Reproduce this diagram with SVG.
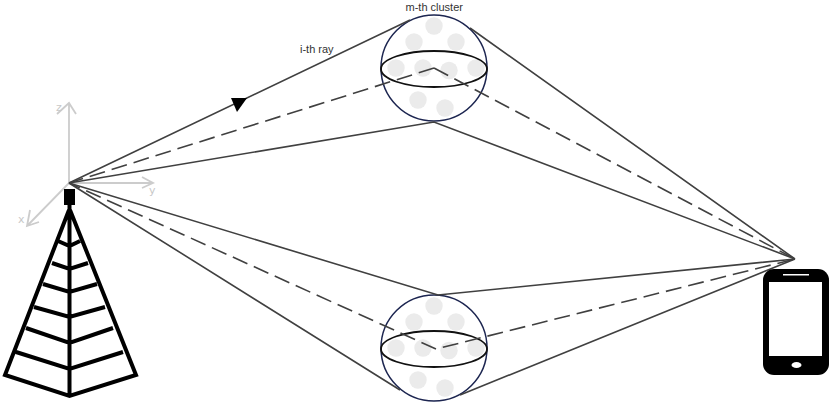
<svg xmlns="http://www.w3.org/2000/svg" width="830" height="404" viewBox="0 0 830 404">
<style>
text{font-family:"Liberation Sans",Arial,sans-serif}
.lbl{font-size:11px;fill:#333}
.ax{font-size:11px;fill:#c8c8c8;font-family:"DejaVu Sans",sans-serif}
.ray{fill:none;stroke:#404040;stroke-width:1.6}
.dash{stroke-dasharray:16 7}
.axis{fill:none;stroke:#cccccc;stroke-width:1.8}
.dot{fill:#ebebeb}
.sph{fill:none;stroke:#1c2550;stroke-width:1.5}
.eq{fill:none;stroke:#111;stroke-width:1.8}
.tw{fill:none;stroke:#000;stroke-width:4}
</style>
<defs>
<g id="cl">
<circle class="dot" cx="0" cy="-42" r="8.7"/><circle class="dot" cx="-20" cy="-26" r="8.7"/><circle class="dot" cx="22" cy="-26" r="8.7"/>
<circle class="dot" cx="-38" cy="0" r="8.7"/><circle class="dot" cx="-11" cy="0" r="8.7"/><circle class="dot" cx="15" cy="2.500" r="8.7"/><circle class="dot" cx="42" cy="0" r="8.7"/>
<circle class="dot" cx="-16" cy="32" r="8.7"/><circle class="dot" cx="11" cy="40" r="8.7"/>
<circle class="sph" cx="0" cy="0" r="53"/><ellipse class="eq" cx="0" cy="1" rx="53" ry="18"/>
</g>
</defs>
<g id="axes">
<path class="axis" d="M69 183V103M57 114L69 103L76 114M69 183H153M142 177L153 183L142 188M69 183L27 226M30 210L27 226L39 222"/>
<text class="ax" x="56" y="111">z</text><text class="ax" x="149" y="194">y</text><text class="ax" x="18" y="223">x</text>
</g>
<g id="cluster-top"><use href="#cl" x="434" y="68"/></g>
<g id="cluster-bottom"><use href="#cl" x="434" y="348"/></g>
<g id="connectors">
<path class="ray" d="M69 183L410 20M470 28L795 259M69 183L434 122L795 259"/>
<path class="ray dash" d="M434 68L69 183M434 68L795 259"/>
<path class="ray" d="M69 183L438 295L795 259M69 183L400 390M460 395L795 259"/>
<path class="ray dash" d="M436 349L69 183"/>
<path class="ray dash" stroke-dashoffset="16" d="M436 349L795 259"/>
<polygon points="231,98 247,98 237,112" fill="#000"/>
</g>
<g id="tower">
<rect x="64" y="189" width="11" height="16" fill="#000"/>
<path class="tw" d="M69.500 205V396M69 210L5 375L69.500 396L136 375L70 210M58 241L69.500 246L80 241M52 263L69.500 269L88 263M43 284L69.500 292L97 284M34 307L69.500 317L105 307M26 328L69.500 343L113 328M16 352L69.500 369L123 352"/>
</g>
<g id="phone">
<rect x="763" y="269" width="66" height="106" rx="11" fill="#000"/>
<rect x="769" y="282" width="53" height="74" fill="#fff"/>
<rect x="783" y="274" width="26" height="1.500" fill="#fff"/>
<ellipse cx="796.500" cy="365" rx="5" ry="3" fill="#fff"/>
</g>
<text class="lbl" x="405.500" y="11">m-th cluster</text>
<text class="lbl" x="300" y="53">i-th ray</text>
</svg>
